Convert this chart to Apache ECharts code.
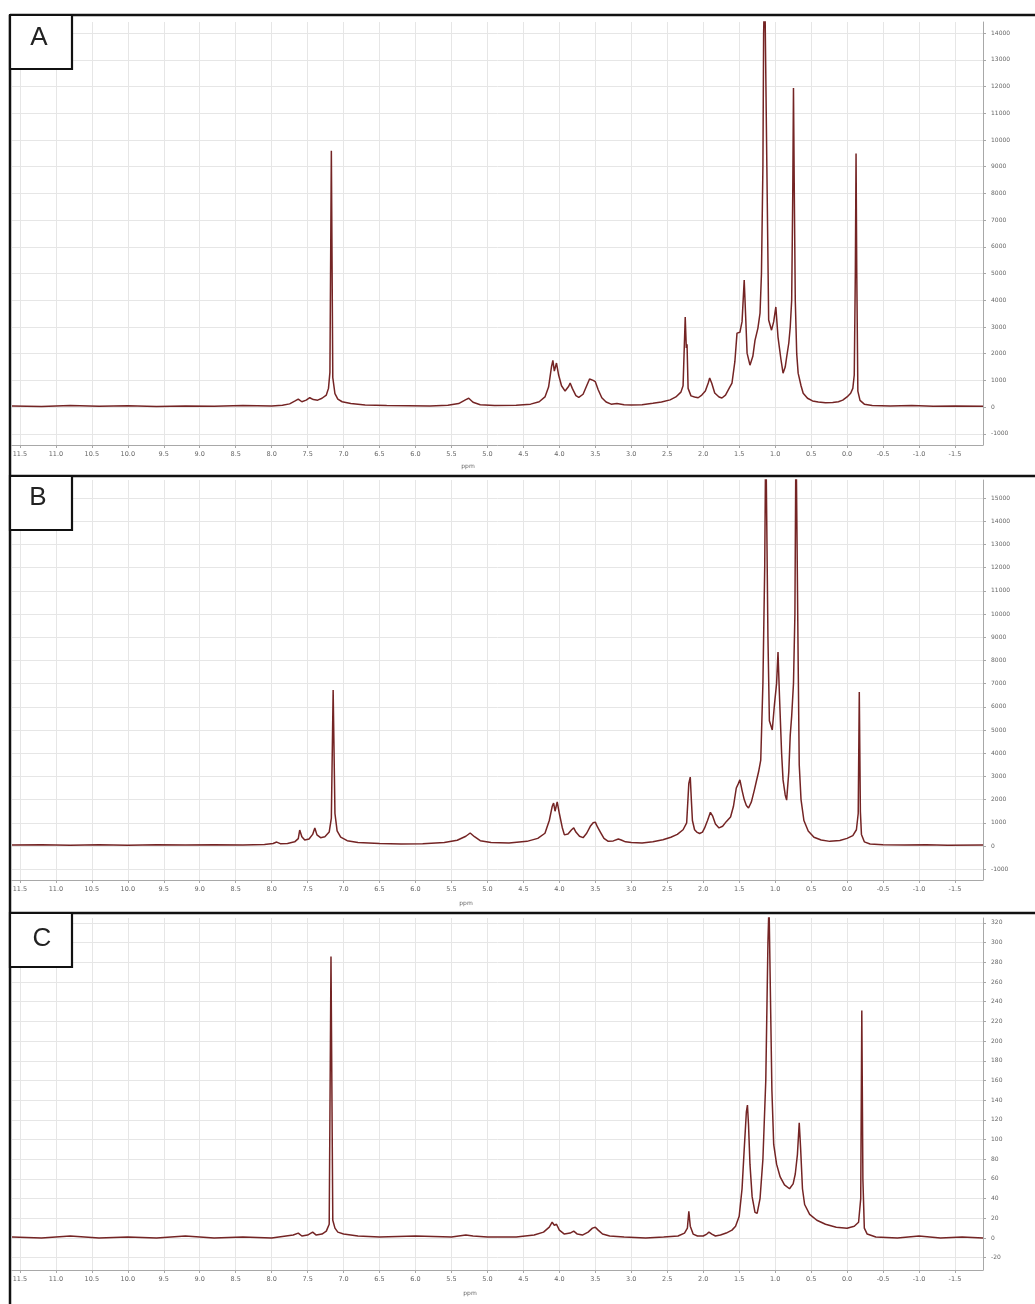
<!DOCTYPE html>
<html><head><meta charset="utf-8">
<script src="https://cdn.jsdelivr.net/npm/echarts@6/dist/echarts.min.js"></script>
<style>html,body{margin:0;padding:0;background:#fff}#c{width:1035px;height:1304px}</style>
</head><body><div id="c"></div>
<script>
// ---- data ----
const panelLabels = ['A', 'B', 'C'];
const ppmTicks = [11.5, 11.0, 10.5, 10.0, 9.5, 9.0, 8.5, 8.0, 7.5, 7.0, 6.5, 6.0, 5.5, 5.0, 4.5, 4.0, 3.5, 3.0, 2.5, 2.0, 1.5, 1.0, 0.5, 0.0, -0.5, -1.0, -1.5];
const yTicksA = [-1000, 0, 1000, 2000, 3000, 4000, 5000, 6000, 7000, 8000, 9000, 10000, 11000, 12000, 13000, 14000];
const yTicksB = [-1000, 0, 1000, 2000, 3000, 4000, 5000, 6000, 7000, 8000, 9000, 10000, 11000, 12000, 13000, 14000, 15000];
const yTicksC = [-20, 0, 20, 40, 60, 80, 100, 120, 140, 160, 180, 200, 220, 240, 260, 280, 300, 320];

const specA = [
[11.61,40],[11.2,25],[10.8,55],[10.4,30],[10.0,50],[9.6,20],[9.2,45],[8.8,30],[8.4,55],[8.0,40],[7.85,70],[7.75,120],[7.68,220],[7.63,300],[7.58,200],[7.52,260],[7.47,350],[7.42,280],[7.36,260],[7.30,330],[7.24,450],[7.21,700],[7.19,1300],[7.17,9600],[7.15,1100],[7.12,500],[7.08,300],[7.02,200],[6.9,130],[6.7,80],[6.4,60],[6.1,50],[5.8,40],[5.55,70],[5.4,130],[5.3,280],[5.26,330],[5.2,180],[5.1,90],[4.9,60],[4.6,70],[4.4,110],[4.28,200],[4.2,380],[4.15,750],[4.11,1500],[4.09,1750],[4.07,1350],[4.04,1650],[4.01,1200],[3.97,800],[3.92,600],[3.87,780],[3.85,900],[3.82,700],[3.77,430],[3.73,360],[3.67,480],[3.62,800],[3.58,1050],[3.56,1120],[3.53,1000],[3.50,950],[3.46,650],[3.41,350],[3.35,190],[3.28,110],[3.2,130],[3.1,90],[3.0,80],[2.85,90],[2.7,140],[2.58,190],[2.46,270],[2.38,380],[2.31,560],[2.28,800],[2.25,3370],[2.235,2210],[2.225,2350],[2.21,700],[2.17,420],[2.12,380],[2.07,350],[2.02,450],[1.97,600],[1.93,900],[1.91,1090],[1.88,880],[1.84,530],[1.78,380],[1.74,340],[1.69,450],[1.64,700],[1.60,900],[1.56,1700],[1.53,2770],[1.49,2800],[1.46,3200],[1.43,4760],[1.41,3400],[1.39,2020],[1.35,1570],[1.31,1900],[1.28,2500],[1.24,2950],[1.21,3520],[1.19,5000],[1.17,9000],[1.16,14000],[1.145,16000],[1.13,16000],[1.115,9000],[1.09,3260],[1.05,2880],[1.02,3200],[0.99,3750],[0.96,2620],[0.92,1800],[0.89,1270],[0.86,1500],[0.84,1870],[0.81,2400],[0.79,3000],[0.77,4000],[0.755,8000],[0.745,11950],[0.735,8500],[0.72,4000],[0.70,2000],[0.68,1270],[0.64,800],[0.61,520],[0.55,330],[0.48,230],[0.40,190],[0.30,160],[0.20,170],[0.12,200],[0.06,260],[0.0,380],[-0.05,520],[-0.08,700],[-0.10,1200],[-0.115,5000],[-0.125,9500],[-0.135,5000],[-0.15,600],[-0.18,250],[-0.24,110],[-0.35,60],[-0.6,40],[-0.9,55],[-1.2,30],[-1.5,45],[-1.89,35]
];

const specB = [
[11.61,40],[11.2,55],[10.8,30],[10.4,50],[10.0,35],[9.6,55],[9.2,40],[8.8,50],[8.4,45],[8.1,70],[7.98,110],[7.93,170],[7.88,100],[7.78,110],[7.68,180],[7.63,320],[7.61,690],[7.58,400],[7.54,260],[7.48,300],[7.43,500],[7.40,780],[7.37,480],[7.32,360],[7.26,400],[7.2,600],[7.17,1200],[7.145,6720],[7.12,1400],[7.09,650],[7.04,380],[6.95,230],[6.8,150],[6.5,110],[6.2,90],[5.9,100],[5.6,150],[5.42,250],[5.3,420],[5.24,560],[5.18,400],[5.1,230],[4.95,150],[4.7,130],[4.45,200],[4.3,330],[4.2,550],[4.14,1100],[4.10,1700],[4.08,1850],[4.06,1500],[4.03,1900],[4.00,1400],[3.96,800],[3.93,480],[3.88,520],[3.83,700],[3.80,780],[3.77,600],[3.72,420],[3.67,360],[3.62,550],[3.57,850],[3.53,1000],[3.50,1030],[3.47,820],[3.43,600],[3.38,330],[3.32,200],[3.25,220],[3.18,300],[3.14,260],[3.08,180],[3.0,150],[2.85,130],[2.7,180],[2.56,270],[2.45,380],[2.36,500],[2.28,700],[2.23,1000],[2.20,2700],[2.18,2970],[2.165,2000],[2.15,1100],[2.12,700],[2.09,600],[2.05,540],[2.01,600],[1.98,780],[1.94,1100],[1.90,1450],[1.87,1300],[1.83,950],[1.78,780],[1.73,850],[1.68,1050],[1.62,1250],[1.58,1700],[1.54,2500],[1.51,2700],[1.49,2850],[1.46,2400],[1.43,2000],[1.40,1750],[1.37,1640],[1.33,1900],[1.29,2400],[1.26,2800],[1.23,3200],[1.20,3700],[1.17,7000],[1.145,12000],[1.13,18000],[1.115,18000],[1.10,9000],[1.08,5400],[1.04,5000],[1.01,6080],[0.98,7000],[0.96,8360],[0.94,6500],[0.91,4000],[0.89,2850],[0.86,2200],[0.84,1980],[0.81,3200],[0.79,4780],[0.77,5600],[0.745,7000],[0.725,10000],[0.71,18000],[0.695,18000],[0.68,8000],[0.665,3500],[0.64,2000],[0.60,1100],[0.54,650],[0.46,380],[0.36,260],[0.24,200],[0.10,240],[0.0,330],[-0.08,450],[-0.13,700],[-0.155,1400],[-0.17,6640],[-0.185,1500],[-0.20,500],[-0.24,180],[-0.32,90],[-0.5,55],[-0.8,40],[-1.1,55],[-1.4,35],[-1.89,45]
];

const specC = [
[11.61,1],[11.2,0],[10.8,2],[10.4,0],[10.0,1],[9.6,0],[9.2,2],[8.8,0],[8.4,1],[8.0,0],[7.8,2],[7.7,3],[7.63,5],[7.58,2],[7.5,3],[7.43,6],[7.38,3],[7.3,4],[7.24,7],[7.20,14],[7.175,286],[7.15,18],[7.12,10],[7.08,6],[7.0,4],[6.8,2],[6.5,1],[6.0,2],[5.5,1],[5.3,3],[5.2,2],[5.0,1],[4.6,1],[4.35,3],[4.22,6],[4.14,11],[4.10,16],[4.07,13],[4.04,14],[4.0,8],[3.93,4],[3.85,5],[3.80,7],[3.75,4],[3.68,3],[3.6,6],[3.54,10],[3.50,11],[3.46,8],[3.40,4],[3.3,2],[3.1,1],[2.8,0],[2.55,1],[2.35,2],[2.26,5],[2.22,10],[2.20,27],[2.18,12],[2.14,4],[2.08,2],[2.0,2],[1.95,4],[1.92,6],[1.88,4],[1.83,2],[1.76,3],[1.68,5],[1.60,8],[1.55,12],[1.50,22],[1.46,50],[1.43,90],[1.40,128],[1.385,135],[1.37,115],[1.35,75],[1.32,42],[1.28,26],[1.25,25],[1.21,40],[1.17,80],[1.13,160],[1.10,300],[1.085,340],[1.06,340],[1.045,150],[1.02,95],[0.98,75],[0.93,62],[0.87,54],[0.80,50],[0.75,55],[0.72,65],[0.69,85],[0.665,117],[0.645,90],[0.62,50],[0.59,34],[0.52,24],[0.42,18],[0.30,14],[0.15,11],[0.0,10],[-0.10,12],[-0.16,16],[-0.19,40],[-0.205,231],[-0.22,60],[-0.24,10],[-0.28,4],[-0.4,1],[-0.7,0],[-1.0,2],[-1.3,0],[-1.6,1],[-1.89,0]
];

// ---- layout ----
const X_MIN = -1.89, X_MAX = 11.61;
const grids = [
  {left: 12, right: 52, top: 22, height: 423},
  {left: 12, right: 52, top: 480, height: 400},
  {left: 12, right: 52, top: 918, height: 352}
];
const yRanges = [[-1420, 14420], [-1465, 15775], [-32.5, 325]];
const yTicks = [yTicksA, yTicksB, yTicksC];
const specs = [specA, specB, specC];

const axisGray = '#a8a8a8';
const gridGray = '#e6e6e6';
const labelGray = '#666';

const xAxes = grids.map((g, i) => ({
  type: 'value', gridIndex: i, inverse: true, min: X_MIN, max: X_MAX,
  axisLine: {show: true, onZero: false, lineStyle: {color: axisGray, width: 1}},
  axisTick: {show: true, customValues: ppmTicks, length: 3, lineStyle: {color: axisGray}},
  axisLabel: {customValues: ppmTicks, formatter: v => v.toFixed(1), fontSize: 6.5, color: labelGray, margin: 6, fontFamily: 'DejaVu Sans'},
  splitLine: {show: true, lineStyle: {color: gridGray, width: 1}}
}));

const yAxes = grids.map((g, i) => ({
  type: 'value', gridIndex: i, position: 'right', min: yRanges[i][0], max: yRanges[i][1],
  axisLine: {show: true, onZero: false, lineStyle: {color: axisGray, width: 1}},
  axisTick: {show: true, customValues: yTicks[i], length: 3, lineStyle: {color: axisGray}},
  axisLabel: {customValues: yTicks[i], formatter: v => String(v), fontSize: 6, color: labelGray, margin: 8, fontFamily: 'DejaVu Sans'},
  splitLine: {show: true, lineStyle: {color: gridGray, width: 1}}
}));

const series = specs.map((d, i) => ({
  type: 'line', xAxisIndex: i, yAxisIndex: i, data: d,
  showSymbol: false, symbol: 'none', clip: true, animation: false,
  lineStyle: {color: '#742424', width: 1.5},
  z: 3
}));

const frameLines = [
  {type: 'line', shape: {x1: 10, y1: 15, x2: 1035, y2: 15}},
  {type: 'line', shape: {x1: 10, y1: 476, x2: 1035, y2: 476}},
  {type: 'line', shape: {x1: 10, y1: 913, x2: 1035, y2: 913}},
  {type: 'line', shape: {x1: 10, y1: 15, x2: 10, y2: 1304}}
].map(e => Object.assign(e, {style: {stroke: '#111', lineWidth: 2.5}, z: 100}));

const boxTops = [15, 476, 913];
const letterPos = [[39, 38], [38, 498], [42, 939]];
const boxes = [];
panelLabels.forEach((L, i) => {
  boxes.push({type: 'rect', shape: {x: 10, y: boxTops[i], width: 62, height: 54},
    style: {fill: '#fff', stroke: '#111', lineWidth: 2.2}, z: 101});
  boxes.push({type: 'text', x: letterPos[i][0], y: letterPos[i][1],
    style: {text: L, fill: '#222', font: '26px "Liberation Sans", Arial, sans-serif', align: 'center', verticalAlign: 'middle'}, z: 102});
});
const ppmNames = [[468, 466], [466, 903], [470, 1293]].map(p => ({
  type: 'text', x: p[0], y: p[1],
  style: {text: 'ppm', fill: labelGray, font: '6px "DejaVu Sans", sans-serif', align: 'center', verticalAlign: 'middle'}, z: 50
}));

const chart = echarts.init(document.getElementById('c'), null, {renderer: 'canvas'});
chart.setOption({
  backgroundColor: '#fff',
  animation: false,
  grid: grids,
  xAxis: xAxes,
  yAxis: yAxes,
  series: series,
  graphic: {elements: frameLines.concat(boxes, ppmNames)}
});
</script>
</body></html>
